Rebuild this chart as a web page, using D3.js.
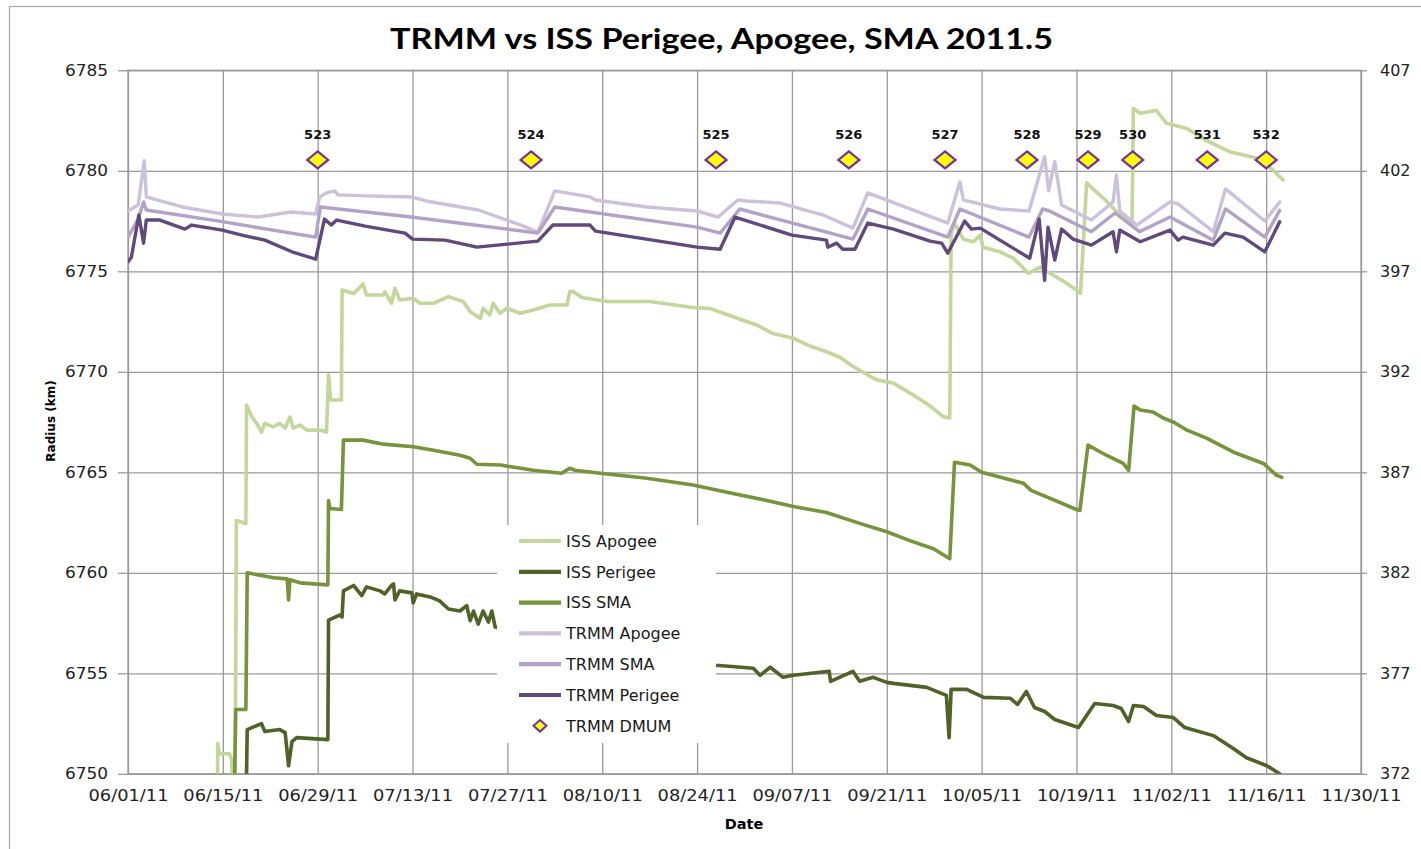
<!DOCTYPE html>
<html>
<head>
<meta charset="utf-8">
<script src="https://cdn.jsdelivr.net/npm/d3@7"></script>
<style>
  html, body { margin: 0; padding: 0; background: #fff; }
  svg { display: block; }
</style>
</head>
<body>
<svg id="chart" width="1421" height="849"></svg>
<script>
// ---------- DATA (x = days after 06/01/11, y = radius km) ----------
const titleText = "TRMM vs ISS Perigee, Apogee, SMA 2011.5";
const yTicksLeft = [6750, 6755, 6760, 6765, 6770, 6775, 6780, 6785];
const yTicksRight = [372, 377, 382, 387, 392, 397, 402, 407];
const dateTickLabels = ["06/01/11","06/15/11","06/29/11","07/13/11","07/27/11","08/10/11","08/24/11",
  "09/07/11","09/21/11","10/05/11","10/19/11","11/02/11","11/16/11","11/30/11"];
const dateTickDays = [0,14,28,42,56,70,84,98,112,126,140,154,168,182];

const issApogee = [[13.2,6749.5],[13.25,6751.5],[13.5,6751.0],[15.0,6751.0],[15.3,6750.7],[15.5,6749],[15.8,6749],
  [16.0,6762.6],[17.4,6762.45],[17.5,6768.35],[18.3,6767.75],[19,6767.43],[19.7,6767.0],[20.2,6767.43],[21.4,6767.26],
  [22.4,6767.43],[23.2,6767.2],[23.9,6767.75],[24.4,6767.2],[25.4,6767.35],[26.4,6767.1],[28.3,6767.1],[29.3,6767.0],
  [29.6,6769.85],[29.9,6768.6],[31.5,6768.6],[31.6,6774.07],[33.3,6773.9],[34.7,6774.37],[35.2,6773.82],
  [37.7,6773.82],[37.9,6773.98],[38.9,6773.41],[39.4,6774.15],[40.1,6773.57],[42.1,6773.66],[43.1,6773.41],
  [45.1,6773.41],[47.3,6773.74],[49.5,6773.49],[50.5,6772.99],[52.0,6772.66],[52.4,6773.16],[53.4,6772.83],
  [53.9,6773.41],[54.9,6772.91],[55.9,6773.16],[57.9,6772.91],[59.8,6773.08],[62.3,6773.32],[64.8,6773.32],
  [65.2,6773.98],[65.7,6774.0],[67,6773.7],[70.7,6773.5],[77,6773.5],[83.4,6773.2],[85.9,6773.15],[88,6772.9],
  [91.3,6772.5],[93,6772.3],[95.2,6771.9],[98.2,6771.67],[100.5,6771.3],[103.1,6771.0],[105.2,6770.7],[107.1,6770.25],
  [110.5,6769.6],[113,6769.43],[115.9,6768.85],[118.2,6768.35],[120.3,6767.77],[121.3,6767.7],[121.5,6776.9],
  [122,6777.4],[123.3,6776.6],[124.8,6776.47],[125.8,6776.8],[126.2,6776.2],[128.7,6775.97],[130.7,6775.65],
  [132.9,6774.9],[134.6,6775.2],[136.1,6774.9],[138.1,6774.5],[140,6774.07],[140.6,6773.9],[141.5,6779.4],
  [141.8,6779.3],[144,6778.63],[145.9,6777.97],[147.4,6777.55],[148.2,6777.4],[148.4,6783.1],[149.4,6782.86],
  [151.8,6783.0],[153.3,6782.36],[156.3,6782.1],[159.2,6781.5],[162.6,6780.95],[167,6780.6],[169,6780.04],
  [170.5,6779.54]];

const issPerigee = [[17.45,6749],[17.6,6752.2],[19.7,6752.5],[20.2,6752.1],[22.4,6752.2],[23.2,6752.05],[23.7,6750.4],
  [24.2,6751.6],[24.9,6751.8],[29.5,6751.7],[29.6,6757.65],[31.3,6757.9],[31.6,6757.8],[31.8,6759.1],[33.3,6759.37],
  [34.5,6758.87],[35.2,6759.3],[37.2,6759.1],[37.9,6758.95],[38.9,6759.37],[39.2,6759.45],[39.4,6758.65],
  [40.1,6759.1],[41.9,6759.0],[42.1,6758.5],[42.6,6758.95],[44.6,6758.8],[46,6758.6],[47.3,6758.2],[49,6758.1],
  [50,6758.37],[50.5,6757.62],[51,6758.1],[51.7,6757.45],[52.4,6758.1],[53.2,6757.55],[53.7,6758.1],[54.2,6757.3],
  [60,6756.9],[70,6756.2],[80,6755.7],[86.8,6755.4],[92.3,6755.25],[93.3,6754.9],[94.8,6755.3],[96.7,6754.8],
  [98.2,6754.9],[103.5,6755.1],[103.7,6754.6],[107,6755.1],[108,6754.6],[110,6754.8],[112,6754.55],[113,6754.5],
  [117.9,6754.3],[120.8,6753.9],[121.2,6751.8],[121.5,6754.2],[123.8,6754.2],[126.3,6753.8],[130.2,6753.76],
  [131.3,6753.45],[132.6,6754.1],[133.8,6753.3],[135.3,6753.1],[136.8,6752.7],[140.3,6752.3],[142.7,6753.5],
  [145.4,6753.4],[146.6,6753.25],[147.7,6752.6],[148.4,6753.4],[149.9,6753.35],[151.8,6752.9],[154.3,6752.8],
  [156,6752.3],[160.2,6751.9],[163.2,6751.25],[165.1,6750.8],[168.1,6750.4],[170,6750.0]];

const issSma = [[15.7,6749],[15.9,6753.2],[17.4,6753.2],[17.6,6760.0],[21.5,6759.75],[23.5,6759.7],[23.7,6758.65],
  [23.9,6759.65],[25.4,6759.5],[29.5,6759.4],[29.6,6763.6],[29.8,6763.2],[31.5,6763.15],[31.8,6766.6],[34.7,6766.6],
  [37.7,6766.4],[42.1,6766.27],[45.1,6766.1],[49,6765.85],[50.5,6765.7],[51.5,6765.4],[55,6765.36],[59.8,6765.1],
  [64,6764.95],[65.2,6765.2],[66,6765.1],[69.7,6764.95],[76.6,6764.7],[83.4,6764.37],[89.3,6763.95],[94.3,6763.6],
  [98.2,6763.3],[103.1,6763.0],[108,6762.46],[112,6762.04],[115.4,6761.6],[118.9,6761.2],[121.3,6760.7],
  [122,6765.5],[124.3,6765.36],[126,6765.0],[132.2,6764.45],[133.3,6764.1],[140,6763.15],[140.5,6763.1],
  [141.7,6766.35],[144.4,6765.85],[146.9,6765.44],[147.7,6765.1],[148.5,6768.3],[149.4,6768.1],[151.3,6768.0],
  [152.8,6767.7],[154.3,6767.5],[156.3,6767.1],[159.2,6766.7],[163.2,6766.0],[167.6,6765.44],[169.5,6764.86],
  [170.3,6764.75]];

const trmmApogee = [[0,6778.0],[1.5,6778.3],[2.4,6780.5],[2.7,6778.7],[8,6778.2],[13.9,6777.85],[19.2,6777.7],
  [24,6777.95],[27.7,6777.85],[28.3,6778.7],[29.3,6778.9],[30.5,6779.0],[31,6778.8],[35,6778.75],[41.8,6778.7],
  [44,6778.5],[51.7,6778.05],[58,6777.3],[60.5,6776.95],[63,6779.0],[68.2,6778.7],[69,6778.55],[76.6,6778.2],
  [84,6778.0],[87.1,6777.7],[90,6778.55],[91.3,6778.5],[96.2,6778.4],[102.6,6777.8],[107,6777.15],[109.2,6778.9],
  [121,6777.4],[122.8,6779.45],[123.3,6778.55],[128.7,6778.1],[133,6778.0],[135.3,6780.7],[135.9,6779.0],
  [136.8,6780.45],[137.8,6778.3],[142.2,6777.55],[145.4,6778.45],[145.9,6779.8],[146.4,6778.0],[148.9,6777.3],
  [153.8,6778.45],[155,6778.35],[160.2,6776.97],[162,6779.1],[167.8,6777.5],[170,6778.45]];

const trmmSma = [[0,6776.7],[1.5,6777.6],[2.3,6778.45],[2.7,6778.05],[13.9,6777.47],[27.7,6776.7],[28.4,6778.2],
  [41.8,6777.7],[60.5,6776.9],[63,6778.2],[84,6777.2],[87.4,6776.9],[90.3,6778.1],[107,6776.6],[109.2,6778.1],
  [121,6776.7],[122.8,6778.1],[133,6776.7],[135,6778.1],[136,6778.0],[142.2,6776.97],[145.7,6777.9],
  [149.3,6776.97],[153.8,6777.7],[160.2,6776.55],[162,6778.1],[167.8,6776.7],[170,6778.03]];

const trmmPerigee = [[0,6775.48],[0.5,6775.7],[1.6,6777.8],[2.3,6776.4],[2.7,6777.55],[4.7,6777.55],[8.4,6777.1],
  [9.4,6777.3],[13.9,6777.05],[16.8,6776.8],[20.2,6776.55],[24.2,6775.97],[27.7,6775.6],[29,6777.6],[30,6777.3],
  [30.8,6777.55],[35,6777.25],[40.9,6776.9],[42,6776.6],[46.8,6776.55],[51.5,6776.2],[57.5,6776.4],[60.5,6776.5],
  [62.7,6777.3],[68.2,6777.3],[69,6777.0],[84,6776.2],[87.4,6776.1],[89.6,6777.7],[98,6776.8],[103.1,6776.55],
  [103.3,6776.2],[104.6,6776.4],[105.5,6776.1],[107.3,6776.1],[109.2,6777.4],[113,6777.1],[118.4,6776.5],
  [120.1,6776.4],[121,6775.9],[123.5,6777.5],[124.5,6777.1],[125.8,6777.15],[128.7,6776.55],[133.1,6775.65],
  [134.5,6777.6],[135.3,6774.55],[135.8,6777.2],[136.8,6775.56],[137.8,6777.1],[139.5,6776.6],[142.2,6776.3],
  [145.4,6776.97],[145.9,6775.97],[146.4,6777.05],[149.4,6776.47],[153.8,6777.05],[155,6776.55],[155.7,6776.7],
  [160.2,6776.3],[161.9,6776.9],[164.6,6776.7],[167.8,6775.97],[170,6777.47]];

const dmumLabels = ["523","524","525","526","527","528","529","530","531","532"];
const dmumDays = [28.0,59.5,86.8,106.4,120.6,132.7,141.7,148.3,159.3,168.0];
const dmumKm = [6780.54,6780.54,6780.54,6780.54,6780.54,6780.54,6780.54,6780.54,6780.54,6780.54];

const seriesNames = ["ISS Apogee","ISS Perigee","ISS SMA","TRMM Apogee","TRMM SMA","TRMM Perigee"];
const seriesData = [issApogee, issPerigee, issSma, trmmApogee, trmmSma, trmmPerigee];
const seriesColors = ["#c3d69b","#4f6228","#77933c","#ccc1da","#b3a2c7","#604a7b"];
const seriesWidths = [3.6, 3.6, 3.6, 3.4, 3.4, 3.4];

// ---------- LAYOUT ----------
const svg = d3.select("#chart");
const L = 128, R = 1361, T = 70.3, B = 773.8;
const t0 = Date.UTC(2011, 5, 1);
const toDate = d => new Date(t0 + d * 864e5);

const x = d3.scaleUtc().domain([toDate(0), toDate(182)]).range([L, R]);
const y = d3.scaleLinear().domain([6750, 6785]).range([B, T]);
const y2 = d3.scaleLinear().domain([372, 407]).range([B, T]);

// chart border
svg.append("rect").attr("x", 9.5).attr("y", 6.5).attr("width", 1430).attr("height", 860)
  .attr("fill", "none").attr("stroke", "#a6a6a6").attr("stroke-width", 1.2);

// title
svg.append("text").attr("x", 721.5).attr("y", 49).attr("text-anchor", "middle")
  .attr("font-family", "Lato, 'Open Sans', sans-serif").attr("font-weight", 700).attr("font-size", 29)
  .attr("textLength", 663).attr("lengthAdjust", "spacingAndGlyphs").attr("fill", "#000").text(titleText);

const gridColor = "#9a9a9a";
const tickFont = "'DejaVu Sans', Verdana, sans-serif";

// horizontal grid + left axis
const gl = svg.append("g").attr("transform", `translate(${L},0)`)
  .call(d3.axisLeft(y).tickValues(yTicksLeft).tickSize(10).tickPadding(10).tickFormat(d3.format("d")));
gl.select(".domain").remove();
gl.selectAll(".tick line").attr("stroke", gridColor).attr("stroke-width", 1.3)
  .attr("x2", -10).clone(true).attr("x1", 0).attr("x2", R - L);
gl.selectAll(".tick text").attr("font-family", tickFont).attr("font-size", 16).attr("fill", "#222")
  .attr("textLength", 43).attr("lengthAdjust", "spacingAndGlyphs");

// right axis
const gr = svg.append("g").attr("transform", `translate(${R},0)`)
  .call(d3.axisRight(y2).tickValues(yTicksRight).tickSize(6).tickPadding(13).tickFormat(d3.format("d")));
gr.select(".domain").remove();
gr.selectAll(".tick line").attr("stroke", gridColor).attr("stroke-width", 1.3);
gr.selectAll(".tick text").attr("font-family", tickFont).attr("font-size", 16).attr("fill", "#222");

// vertical grid + bottom axis
const gb = svg.append("g").attr("transform", `translate(0,${B})`)
  .call(d3.axisBottom(x).tickValues(dateTickDays.map(toDate)).tickSize(0).tickPadding(16)
    .tickFormat((d, i) => dateTickLabels[i]));
gb.select(".domain").remove();
gb.selectAll(".tick line").attr("stroke", gridColor).attr("stroke-width", 1.3).attr("y2", -(B - T));
gb.selectAll(".tick text").attr("font-family", tickFont).attr("font-size", 16).attr("fill", "#222")
  .attr("textLength", 80).attr("lengthAdjust", "spacingAndGlyphs");

// plot frame
svg.append("rect").attr("x", L).attr("y", T).attr("width", R - L).attr("height", B - T)
  .attr("fill", "none").attr("stroke", gridColor).attr("stroke-width", 1.3);

// axis titles
svg.append("text").attr("transform", "translate(55,421) rotate(-90)").attr("text-anchor", "middle")
  .attr("font-family", tickFont).attr("font-weight", 700).attr("font-size", 12).attr("fill", "#000")
  .text("Radius (km)");
svg.append("text").attr("x", 744).attr("y", 828.5).attr("text-anchor", "middle")
  .attr("font-family", tickFont).attr("font-weight", 700).attr("font-size", 14.5).attr("fill", "#000")
  .text("Date");

// clip
svg.append("clipPath").attr("id", "plotclip").append("rect")
  .attr("x", L).attr("y", T).attr("width", R - L).attr("height", B - T);

const line = d3.line().x(d => x(toDate(d[0]))).y(d => y(d[1]));
const gLines = svg.append("g").attr("clip-path", "url(#plotclip)");
seriesData.forEach((data, i) => {
  gLines.append("path").datum(data).attr("d", line).attr("fill", "none")
    .attr("stroke", seriesColors[i]).attr("stroke-width", seriesWidths[i])
    .attr("stroke-linejoin", "round").attr("stroke-linecap", "round");
});

// DMUM markers
const diamond = (hw, hh) => `M0,${-hh}L${hw},0L0,${hh}L${-hw},0Z`;
const gM = svg.append("g");
dmumDays.forEach((d, i) => {
  const cx = x(toDate(d)), cy = y(dmumKm[i]);
  gM.append("path").attr("d", diamond(10.5, 8.5)).attr("transform", `translate(${cx},${cy})`)
    .attr("fill", "#ffff00").attr("stroke", "#7030a0").attr("stroke-width", 2.2);
  gM.append("text").attr("x", cx).attr("y", cy - 20.5).attr("text-anchor", "middle")
    .attr("font-family", tickFont).attr("font-weight", 700).attr("font-size", 13).attr("fill", "#111")
    .text(dmumLabels[i]);
});

// legend
const lg = svg.append("g");
lg.append("rect").attr("x", 497).attr("y", 525).attr("width", 219).attr("height", 218).attr("fill", "#fff");
const rowY = i => 541 + i * 30.8;
seriesNames.forEach((name, i) => {
  lg.append("line").attr("x1", 519).attr("x2", 561).attr("y1", rowY(i)).attr("y2", rowY(i))
    .attr("stroke", seriesColors[i]).attr("stroke-width", 4.2);
  lg.append("text").attr("x", 566).attr("y", rowY(i)).attr("dy", "0.36em")
    .attr("font-family", tickFont).attr("font-size", 16).attr("fill", "#1a1a1a").text(name);
});
lg.append("path").attr("d", diamond(6.5, 5.8)).attr("transform", `translate(540,${rowY(6)})`)
  .attr("fill", "#ffff00").attr("stroke", "#7030a0").attr("stroke-width", 2);
lg.append("text").attr("x", 566).attr("y", rowY(6)).attr("dy", "0.36em")
  .attr("font-family", tickFont).attr("font-size", 16).attr("fill", "#1a1a1a").text("TRMM DMUM");
</script>
</body>
</html>
